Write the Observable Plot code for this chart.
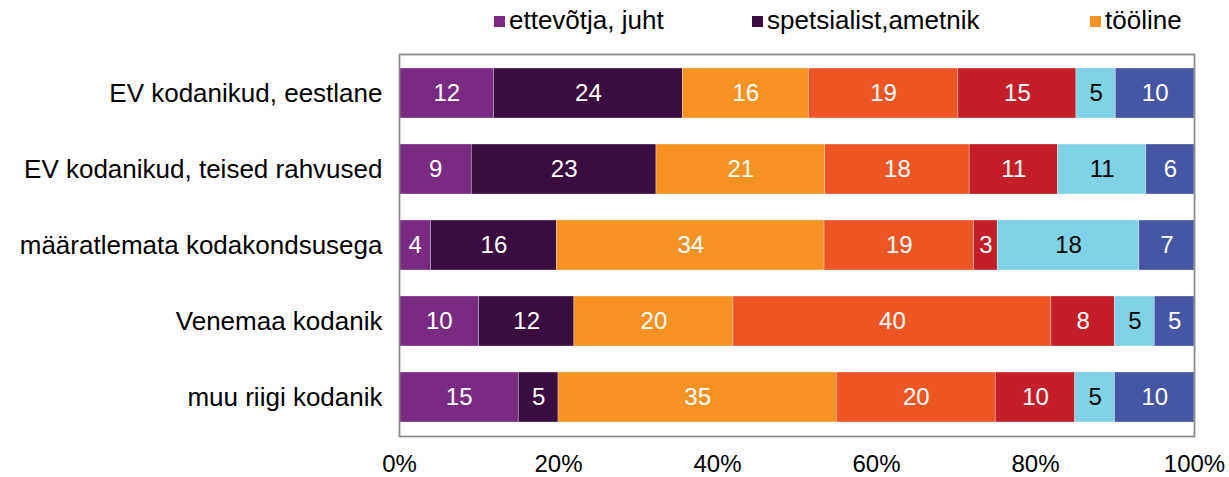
<!DOCTYPE html>
<html>
<head>
<meta charset="utf-8">
<script src="https://cdn.jsdelivr.net/npm/d3@7"></script>
<script src="https://cdn.jsdelivr.net/npm/@observablehq/plot@0.6"></script>
<style>
  body { margin: 0; background: #fff; font-family: "Liberation Sans", Arial, sans-serif; }
  #wrap { position: relative; width: 1229px; height: 477px; }
  #legend { position: relative; height: 42px; width: 1229px; }
  .li { position: absolute; top: 5px; font-size: 26px; color: #000; line-height: 30px; white-space: nowrap; }
  .sw { display: inline-block; width: 11px; height: 11px; margin-right: 4px; vertical-align: 2px; }
</style>
</head>
<body>
<div id="wrap">
  <div id="legend"></div>
  <div id="chart"></div>
</div>
<script>
const categories = [
  "EV kodanikud, eestlane",
  "EV kodanikud, teised rahvused",
  "määratlemata kodakondsusega",
  "Venemaa kodanik",
  "muu riigi kodanik"
];
const seriesNames = ["ettevõtja, juht", "spetsialist,ametnik", "tööline", "seeria 4", "seeria 5", "seeria 6", "seeria 7"];
const seriesColors = ["#7B2A83", "#3B0C3F", "#F59222", "#EE5524", "#C41F27", "#80D2E7", "#4656A4"];
const legendShown = ["ettevõtja, juht", "spetsialist,ametnik", "tööline"];
const legendX = [494, 752, 1090];

const s1 = [12, 9, 4, 10, 15];
const s2 = [24, 23, 16, 12, 5];
const s3 = [16, 21, 34, 20, 35];
const s4 = [19, 18, 19, 40, 20];
const s5 = [15, 11, 3, 8, 10];
const s6 = [5, 11, 18, 5, 5];
const s7 = [10, 6, 7, 5, 10];
const seriesValues = [s1, s2, s3, s4, s5, s6, s7];
const xTicks = [0, 0.2, 0.4, 0.6, 0.8, 1];

const data = [];
categories.forEach((c, i) => {
  seriesNames.forEach((s, j) => {
    data.push({cat: c, series: s, value: seriesValues[j][i]});
  });
});

// legend
const leg = document.getElementById("legend");
legendShown.forEach((name, k) => {
  const d = document.createElement("div");
  d.className = "li";
  d.style.left = legendX[k] + "px";
  const sw = document.createElement("span");
  sw.className = "sw";
  sw.style.background = seriesColors[seriesNames.indexOf(name)];
  d.appendChild(sw);
  d.appendChild(document.createTextNode(name));
  leg.appendChild(d);
});

const stackOpts = {x: "value", y: "cat", z: "series", order: seriesNames, offset: "normalize"};

const chart = Plot.plot({
  width: 1229,
  height: 435,
  marginTop: 12,
  marginBottom: 41,
  marginLeft: 399,
  marginRight: 35,
  style: {fontFamily: "Liberation Sans, Arial, sans-serif", fontSize: "26px", color: "#000", background: "#fff", overflow: "visible"},
  x: {domain: [0, 1], ticks: xTicks, tickFormat: d3.format(".0%"), label: null},
  y: {domain: categories, paddingInner: 0.346, paddingOuter: 0.173, tickSize: 0, tickPadding: 17, label: null},
  color: {domain: seriesNames, range: seriesColors},
  marks: [
    Plot.barX(data, Plot.stackX({...stackOpts, fill: "series", stroke: "white", strokeWidth: 0.6, strokeOpacity: 0.5})),
    Plot.textX(data, Plot.stackX({...stackOpts, text: d => String(d.value), fill: d => d.series === "seeria 6" ? "#000" : "#fff", fontSize: 24})),
    Plot.axisX({ticks: xTicks, tickFormat: d3.format(".0%"), tickSize: 0, tickPadding: 18, fontSize: 24, label: null}),
    Plot.frame({stroke: "#8C8C8C", strokeWidth: 1.8})
  ]
});
document.getElementById("chart").appendChild(chart);
</script>
</body>
</html>
